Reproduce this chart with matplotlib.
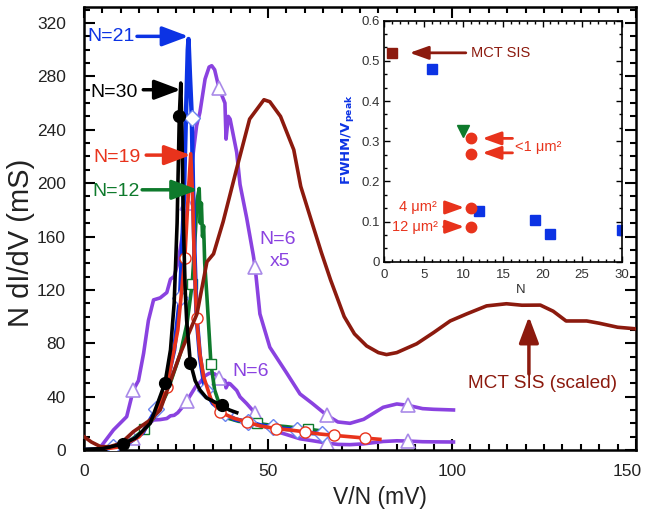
import numpy as np
import matplotlib
matplotlib.use("Agg")
from matplotlib import pyplot as plt
from matplotlib.ticker import MultipleLocator
from matplotlib.transforms import ScaledTranslation

plt.rcParams['font.family'] = ['Liberation Sans', 'DejaVu Sans']
plt.rcParams['mathtext.default'] = 'regular'

# ---- main panel data (V/N in mV, N dI/dV in mS) ----
n6_v = [3.9, 8, 11.6, 13.4, 14.8, 16.2, 17.5, 18.9, 20.7, 22.5, 23.5, 24.5, 25.5, 27, 28,
        29.7, 30.6, 31.5, 32.9, 34, 34.7, 35.5, 36.7, 38.3, 38.6, 39.2, 39.7, 41.5, 42.4,
        44.2, 46, 46.5, 47.8, 50.5, 55, 58.7, 62, 66, 69, 72.3, 76, 81.3, 85, 88, 92, 95, 100.4]
n6_g = [0, 3.0, 5.0, 9.0, 10.4, 14.5, 19.4, 22.5, 22.8, 23.6, 25.6, 26.0, 28.0, 33.0, 37.0,
        44.6, 48.6, 50.6, 55.6, 57.4, 57.6, 57.0, 54.2, 52.0, 46.6, 50.0, 49.6, 44.6, 39.8,
        34.8, 29.2, 27.4, 20.4, 15.4, 11.6, 8.4, 7.0, 5.2, 4.2, 4.0, 4.6, 6.4, 6.9, 6.7, 6.2, 6.1, 6.0]
n6_marks = [3, 14, 22, 31, 37, 43]
n6_scale = 5

n21_v = [0, 4, 8, 12, 16, 19.7, 22.5, 24.5, 26.1, 27.0, 27.7, 28.2, 28.4, 28.8, 29.3, 29.6,
         30.0, 30.6, 31.5, 32.9, 35, 38.3, 41, 44.6, 48, 51.3, 54, 57.8, 61, 64.6, 66]
n21_g = [0, 0.5, 2, 5, 13, 31, 50, 75, 114, 175, 250, 300, 308, 280, 249, 200,
         150, 100, 70, 45, 35, 27.6, 23, 21, 18.5, 17, 16, 15, 13, 12, 11.5]
n21_marks = [2, 5, 8, 14, 19, 21, 23, 25, 27, 29]

n19_v = [0, 5, 10, 15, 19, 22.5, 25.5, 27.4, 28.4, 29.0, 29.5, 30.0, 30.6, 31.5, 32.5, 34.5,
         37, 40.5, 44.2, 48, 52.3, 56, 60, 64, 67.8, 72, 76.4, 80.4]
n19_g = [0, 0.5, 2.5, 10, 25, 47, 90, 144, 195, 222, 190, 140, 99, 72, 55, 38,
         28.5, 24, 21, 18, 16, 15, 13.6, 12, 11, 10, 8.9, 8]
n19_marks = [5, 7, 12, 16, 18, 20, 22, 24, 26]

n12_v = [0, 5, 10, 13, 16.4, 19.5, 22.5, 26.2, 28, 29.4, 29.8, 30.3, 30.7, 31.1, 31.3, 31.6,
         31.9, 32.2, 32.5, 32.8, 33.4, 34.5, 35.5, 37, 38.9, 42, 46.9, 51, 55, 60.8, 64]
n12_g = [0, 0.5, 3, 8, 15.4, 26, 42.5, 72.5, 95, 124.5, 142, 165, 187, 193, 196, 170,
         185, 160, 168, 140, 115, 64.5, 45, 32.5, 24, 21.5, 20, 18.5, 17.5, 15.6, 14.5]
n12_marks = [4, 9, 21, 26, 29]

n30_v = [0, 5, 10.6, 14, 18, 22, 23.5, 24.5, 25.3, 25.9, 26.3, 26.6, 27.0, 27.5, 27.9, 28.9,
         30.2, 31.5, 33.3, 35.5, 37.4, 39.5, 41.5]
n30_g = [0.5, 1, 4.5, 9, 20, 50, 75, 110, 170, 250, 275, 240, 170, 120, 97, 65.5,
         52, 45, 39, 36, 33.5, 30, 28]
n30_marks = [2, 5, 9, 15, 20]

mct_v = [0, 2, 4.5, 7, 10, 13.4, 18, 20.7, 26.2, 30.7, 33.4, 35.2, 37.8, 41.5, 45, 48.9,
         50.5, 53.4, 57, 58.9, 62, 64.5, 67, 70.7, 73.5, 76.8, 80, 82.2, 85, 90.4, 95,
         99.5, 104, 109.4, 114.8, 119, 124, 127.5, 131, 136.6, 140, 145, 150]
mct_g = [10, 6, 2.5, 2.5, 5, 13.7, 22.5, 30, 72.5, 102, 141, 147, 171, 211, 248, 262.5,
         261, 250, 225, 197.5, 170, 148, 127.5, 100, 87, 78, 73, 71.5, 73, 79.6, 88,
         96.7, 102, 108, 109.6, 108.5, 108.6, 104, 96.7, 96.7, 95, 92, 90.8]

x_ticks = [0, 50, 100, 150]
x_ticklabels = ['0', '50', '100', '150']

# ---- inset data (FWHM/V_peak vs N) ----
mct_n, mct_w = [1], [0.52]
sq_n = [6, 12, 19, 21, 30]
sq_w = [0.48, 0.126, 0.104, 0.070, 0.078]
tri_n, tri_w = [10], [0.326]
circ_n = [11, 11, 11, 11]
circ_w = [0.309, 0.268, 0.133, 0.087]

purple = '#8a42e0'
tri_edge = '#a98ae8'
blue = '#0c33e4'
red = '#e8331c'
green = '#0e7a2c'
brown = '#8c1a0e'

fig = plt.figure(figsize=(6.48, 5.11), dpi=100)
ax = fig.add_axes([84 / 648, 61 / 511, 552 / 648, 443 / 511])

lw = 2.6
n6_v = np.array(n6_v)
n6_g = np.array(n6_g)
ax.plot(n6_v, n6_g * n6_scale, color=purple, lw=lw, marker='^', ms=10, mfc='white',
        mec=tri_edge, mew=1.2, markevery=n6_marks, zorder=2)
ax.plot(n6_v, n6_g, color=purple, lw=lw, marker='^', ms=10, mfc='white',
        mec=tri_edge, mew=1.2, markevery=n6_marks, zorder=2)
ax.plot(n12_v, n12_g, color=green, lw=lw, marker='s', ms=7.5, mfc='white', mec=green,
        mew=1.0, markevery=n12_marks, zorder=3)
ax.plot(n21_v, n21_g, color=blue, lw=3.2, marker='D', ms=8, mfc='white', mec='#6a84f0',
        mew=1.0, markevery=n21_marks, zorder=3)
ax.plot(n19_v, n19_g, color=red, lw=lw, marker='o', ms=8, mfc='white', mec=red,
        mew=1.0, markevery=n19_marks, zorder=3)
ax.plot(n30_v, n30_g, color='black', lw=lw, marker='o', ms=8.5, mfc='black', mec='black',
        markevery=n30_marks, zorder=4)
ax.plot(mct_v, mct_g, color=brown, lw=2.6, zorder=3.5)

ax.set_xlim(0, 150)
ax.set_ylim(0, 332)
ax.set_xticks(x_ticks)
ax.set_xticklabels(x_ticklabels)
ax.xaxis.set_minor_locator(MultipleLocator(5))
ax.yaxis.set_major_locator(MultipleLocator(40))
ax.yaxis.set_minor_locator(MultipleLocator(10))
ax.tick_params(which='both', direction='in', top=True, right=True, width=1.5, labelsize=12.5,
               labelcolor='#222222')
ax.tick_params(which='major', length=8)
ax.tick_params(which='minor', length=4.5)
ax.tick_params(axis='y', pad=13)
ax.tick_params(axis='x', pad=10)
for s in ax.spines.values():
    s.set_linewidth(1.8)
# keep "150" inside the figure edge
lab150 = ax.xaxis.get_major_ticks()[-1].label1
lab150.set_transform(lab150.get_transform() + ScaledTranslation(-6 / 72, 0, fig.dpi_scale_trans))

fig.text(21 / 648, 1 - 243 / 511, 'N dI/dV (mS)', rotation=90, ha='center', va='center',
         fontsize=21, color='#222222')
fig.text(380 / 648, 1 - 497 / 511, 'V/N (mV)', ha='center', va='center', fontsize=16.5,
         color='#222222')

# labels with arrows
lab_fs = 14
def lab_arrow(text, col, x_text, x0, x1, y_text, y_arr):
    ax.text(x_text, y_text, text, color=col, fontsize=lab_fs, ha='right', va='center')
    ax.annotate('', xy=(x1, y_arr), xytext=(x0, y_arr),
                arrowprops=dict(arrowstyle='-|>,head_length=0.8,head_width=0.3',
                                color=col, lw=2.5, mutation_scale=20, shrinkA=0, shrinkB=0),
                zorder=6)

lab_arrow('N=21', blue, 13.8, 14.4, 28.4, 310, 310)
lab_arrow('N=30', 'black', 14.6, 16.1, 26.3, 268, 270)
lab_arrow('N=19', red, 15.3, 16.9, 29.0, 219, 221)
lab_arrow('N=12', green, 15.2, 15.8, 31.0, 194, 195)

ax.text(52.6, 158, 'N=6', color=purple, fontsize=lab_fs, ha='center', va='center')
ax.text(53.2, 141, 'x5', color=purple, fontsize=lab_fs, ha='center', va='center')
ax.text(45.4, 58.5, 'N=6', color=purple, fontsize=lab_fs, ha='center', va='center')
ax.text(124.5, 50, 'MCT SIS (scaled)', color=brown, fontsize=13.7, ha='center', va='center')
ax.annotate('', xy=(120.9, 100), xytext=(120.9, 57),
            arrowprops=dict(arrowstyle='-|>,head_length=0.8,head_width=0.3', color=brown,
                            lw=2.5, mutation_scale=20, shrinkA=0, shrinkB=0))

# ---- inset ----
ins = fig.add_axes([384.3 / 648, (511 - 261.7) / 511, 237.4 / 648, 241 / 511])
ins.plot(mct_n, mct_w, 's', color=brown, ms=7.5, ls='none')
ins.plot(sq_n, sq_w, 's', color=blue, ms=7.5, ls='none')
ins.plot(tri_n, tri_w, 'v', color=green, ms=9, ls='none')
ins.plot(circ_n, circ_w, 'o', color=red, ms=7.5, ls='none')
ins.set_xlim(0, 30)
ins.set_ylim(0, 0.6)
ins.xaxis.set_major_locator(MultipleLocator(5))
ins.xaxis.set_minor_locator(MultipleLocator(1))
ins.yaxis.set_minor_locator(MultipleLocator(0.1 / 3))
ins.tick_params(which='both', direction='in', top=True, right=True, width=1.0,
                labelsize=9.5, labelcolor='#333333')
ins.tick_params(which='major', length=4)
ins.tick_params(which='minor', length=2.5)
ins.tick_params(axis='y', pad=3)
ins.tick_params(axis='x', pad=5)
ins.set_yticks([0, 0.1, 0.2, 0.3, 0.4, 0.5, 0.6])
ins.set_yticklabels(['0', '0.1', '0.2', '0.3', '0.4', '0.5', '0.6'])
for s in ins.spines.values():
    s.set_linewidth(1.2)
fig.text(347 / 648, 1 - 140 / 511, 'FWHM/V$_{peak}$', rotation=90, ha='center', va='center',
         fontsize=9.5, color=blue, fontweight='bold', family='DejaVu Sans')
fig.text(521 / 648, 1 - 290 / 511, 'N', ha='center', va='center', fontsize=9.5, color='#333333')

ifs = 10.5
arr_s = '-|>,head_length=0.7,head_width=0.25'
def ins_arrow(x0, x1, y, col):
    ins.annotate('', xy=(x1, y), xytext=(x0, y),
                 arrowprops=dict(arrowstyle=arr_s, color=col, lw=2, mutation_scale=16,
                                 shrinkA=0, shrinkB=0))

ins.text(11.0, 0.52, 'MCT SIS', color=brown, fontsize=ifs, ha='left', va='center')
ins_arrow(10.3, 3.2, 0.52, brown)
ins.text(16.5, 0.286, '<1 μm²', color=red, fontsize=ifs, ha='left', va='center')
ins_arrow(16.2, 12.4, 0.307, red)
ins_arrow(16.2, 12.4, 0.271, red)
ins.text(6.6, 0.137, '4 μm²', color=red, fontsize=ifs, ha='right', va='center')
ins_arrow(7.8, 10.1, 0.135, red)
ins.text(6.8, 0.087, '12 μm²', color=red, fontsize=ifs, ha='right', va='center')
ins_arrow(7.5, 10.1, 0.087, red)

fig.savefig('out.png', dpi=100)
